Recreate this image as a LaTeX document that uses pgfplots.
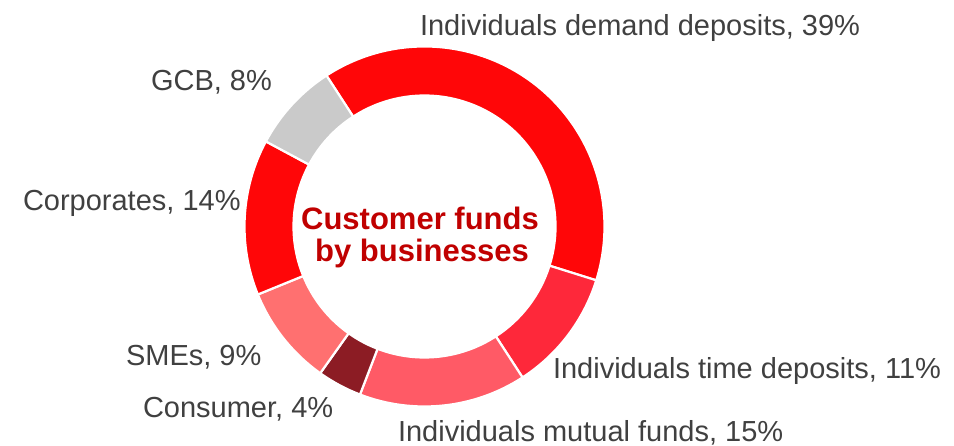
\documentclass[border=0pt]{standalone}
\usepackage{fontspec}
\setmainfont{Liberation Sans}
\usepackage{pgfplots}
\pgfplotsset{compat=1.18}
\definecolor{cdemand}{RGB}{255,6,8}
\definecolor{ctime}{RGB}{254,40,58}
\definecolor{cmutual}{RGB}{255,90,102}
\definecolor{cconsumer}{RGB}{140,28,36}
\definecolor{csme}{RGB}{255,112,112}
\definecolor{ccorp}{RGB}{255,6,8}
\definecolor{cgcb}{RGB}{202,202,202}
\definecolor{labelgray}{RGB}{64,64,64}
\definecolor{centerred}{RGB}{192,0,0}
\begin{document}
\begin{tikzpicture}
\begin{axis}[name=ax,
  scale only axis, width=954bp, height=446bp,
  xmin=0, xmax=954, ymin=0, ymax=446,
  enlargelimits=false, hide axis, clip=false]
\addplot[draw=none, mark=none] coordinates {(0,0) (954,446)};
\pgfplotsextra{
  \gdef\angA{123}
  \foreach \p/\c in {39/cdemand,11/ctime,15/cmutual,4/cconsumer,9/csme,14/ccorp,8/cgcb}{
    \pgfmathsetmacro\angB{\angA-3.6*\p}
    \pgfmathsetmacro\xA{424.5+180*cos(\angA)}
    \pgfmathsetmacro\yA{219.5+180*sin(\angA)}
    \pgfmathsetmacro\xB{424.5+131*cos(\angB)}
    \pgfmathsetmacro\yB{219.5+131*sin(\angB)}
    \filldraw[fill=\c, draw=white, line width=2.2bp, line join=miter]
      (axis cs:\xA,\yA) arc[start angle=\angA, end angle=\angB, radius=180bp]
      -- (axis cs:\xB,\yB) arc[start angle=\angB, end angle=\angA, radius=131bp] -- cycle;
    \xdef\angA{\angB}
  }
}
\begin{scope}[every node/.style={inner sep=0pt, outer sep=0pt, text=labelgray, font=\fontsize{29bp}{34bp}\selectfont, anchor=base west}]
\node at (axis cs:420,410) {Individuals demand deposits, 39\%};
\node at (axis cs:151,355) {GCB, 8\%};
\node at (axis cs:23,235) {Corporates, 14\%};
\node at (axis cs:126,80) {SMEs, 9\%};
\node at (axis cs:143,29) {Consumer, 4\%};
\node at (axis cs:553,67) {Individuals time deposits, 11\%};
\node at (axis cs:398,5) {Individuals mutual funds, 15\%};
\end{scope}
\node[inner sep=0pt, anchor=base, text=centerred, font=\fontsize{31bp}{36bp}\selectfont\bfseries] at (axis cs:420,216) {Customer funds};
\node[inner sep=0pt, anchor=base, text=centerred, font=\fontsize{31bp}{36bp}\selectfont\bfseries] at (axis cs:422,184) {by businesses};
\end{axis}
\pgfresetboundingbox
\path (ax.south west) rectangle (ax.north east);
\end{tikzpicture}
\end{document}
